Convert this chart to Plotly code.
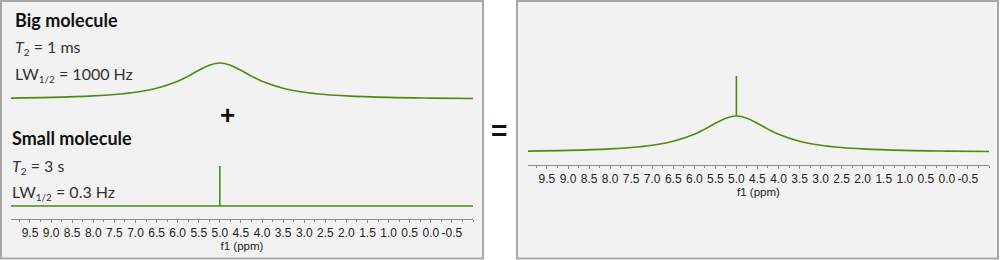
import plotly.graph_objects as go

# ---- data ----
big_ppm = [9.95, 9.0, 8.0, 7.5, 7.0, 6.5, 6.0, 5.75, 5.5, 5.25, 5.0,
           4.75, 4.5, 4.25, 4.0, 3.5, 3.0, 2.5, 2.0, 1.0, 0.0, -1.0]
big_int = [1.4, 2.1, 3.6, 5.0, 7.3, 11.2, 18.2, 23.4, 29.2, 34.3, 36.5,
           34.3, 29.2, 23.4, 18.2, 11.2, 7.3, 5.0, 3.6, 2.1, 1.4, 1.0]
small_ppm = [9.95, 5.0, 5.0, 5.0, -1.0]
small_int = [0.0, 0.0, 40.0, 0.0, 0.0]
tick_vals = [9.5, 9.0, 8.5, 8.0, 7.5, 7.0, 6.5, 6.0, 5.5, 5.0, 4.5,
             4.0, 3.5, 3.0, 2.5, 2.0, 1.5, 1.0, 0.5, 0.0, -0.5]
tick_text = ["9.5", "9.0", "8.5", "8.0", "7.5", "7.0", "6.5", "6.0", "5.5", "5.0", "4.5",
             "4.0", "3.5", "3.0", "2.5", "2.0", "1.5", "1.0", "0.5", "0.0", "-0.5"]
x_range = [9.95, -1.0]

W, H = 1000, 260
GREEN = "#4d8c10"
LINEW = 1.6


def px(x):
    return x / W


def py(y):
    return 1 - y / H


fig = go.Figure()

# big molecule (top left)
fig.add_trace(go.Scatter(x=big_ppm, y=big_int, mode="lines", line=dict(color=GREEN, width=LINEW, shape="spline"),
                         xaxis="x", yaxis="y", hoverinfo="skip", showlegend=False))
# small molecule (bottom left)
fig.add_trace(go.Scatter(x=small_ppm, y=small_int, mode="lines", line=dict(color=GREEN, width=LINEW),
                         xaxis="x2", yaxis="y2", hoverinfo="skip", showlegend=False))
# sum (right)
fig.add_trace(go.Scatter(x=big_ppm, y=big_int, mode="lines", line=dict(color=GREEN, width=LINEW, shape="spline"),
                         xaxis="x3", yaxis="y3", hoverinfo="skip", showlegend=False))
i5 = big_ppm.index(5.0)
peak_small = max(small_int)
fig.add_trace(go.Scatter(x=[5.0, 5.0], y=[big_int[i5], big_int[i5] + peak_small], mode="lines",
                         line=dict(color=GREEN, width=LINEW),
                         xaxis="x3", yaxis="y3", hoverinfo="skip", showlegend=False))

hidden_x = dict(range=x_range, showline=False, showticklabels=False, ticks="", showgrid=False, zeroline=False,
                fixedrange=True)
shown_x = dict(range=x_range, showline=True, linecolor="#8c8c8c", linewidth=1,
               tickmode="array", tickvals=tick_vals, ticktext=tick_text,
               ticks="outside", ticklen=3, tickcolor="#8c8c8c", tickwidth=1,
               minor=dict(dtick=0.25, tick0=0, ticks="outside", ticklen=2, tickcolor="#8c8c8c"),
               tickfont=dict(family="Liberation Sans, Arial", size=12, color="#222222"),
               title=dict(text="f1 (ppm)", font=dict(family="Liberation Sans, Arial", size=11.5, color="#222222"),
                          standoff=1),
               showgrid=False, zeroline=False, fixedrange=True)
hidden_y = dict(showline=False, showticklabels=False, ticks="", showgrid=False, zeroline=False, fixedrange=True)

fig.update_layout(
    width=W, height=H, margin=dict(l=0, r=0, t=0, b=0),
    paper_bgcolor="white", plot_bgcolor="rgba(0,0,0,0)",
    xaxis=dict(domain=[px(11), px(473)], anchor="y", **hidden_x),
    yaxis=dict(domain=[py(105), py(40)], range=[-5.5, 59.5], anchor="x", **hidden_y),
    xaxis2=dict(domain=[px(11), px(473)], anchor="y2", **shown_x),
    yaxis2=dict(domain=[py(219), py(150)], range=[-13, 56], anchor="x2", **hidden_y),
    xaxis3=dict(domain=[px(528), px(989)], anchor="y3", **shown_x),
    yaxis3=dict(domain=[py(165), py(60)], range=[-12.5, 92.5], anchor="x3", **hidden_y),
)

# panel boxes
for x0, x1 in [(1, 483), (517, 998)]:
    fig.add_shape(type="rect", xref="paper", yref="paper", x0=px(x0), x1=px(x1), y0=py(258.5), y1=py(1),
                  line=dict(color="#a8a8a8", width=2), fillcolor="#f2f2f2", layer="below")

TXT = "Lato, Noto Sans, sans-serif"
SUB = "<sub><span style='font-size:10px'>%s</span></sub>"


def label(x, y, text, size, color, bold=False):
    fig.add_annotation(xref="paper", yref="paper", x=px(x), y=py(y), xanchor="left", yanchor="middle",
                       text=("<b>%s</b>" % text) if bold else text, showarrow=False,
                       font=dict(family=TXT, size=size, color=color))


label(13, 20, "Big molecule", 18, "#111111", bold=True)
label(13, 47, "<i>T</i>" + SUB % "2" + " = 1 ms", 16, "#333333")
label(13, 74, "LW" + SUB % "1/2" + " = 1000 Hz", 16, "#333333")
label(10, 138, "Small molecule", 18, "#111111", bold=True)
label(10, 166, "<i>T</i>" + SUB % "2" + " = 3 s", 16, "#333333")
label(10, 192, "LW" + SUB % "1/2" + " = 0.3 Hz", 16, "#333333")

fig.add_annotation(xref="paper", yref="paper", x=px(227), y=py(115), xanchor="center", yanchor="middle",
                   text="<b>+</b>", showarrow=False, font=dict(family="Liberation Sans, Arial", size=26, color="#111111"))
fig.add_annotation(xref="paper", yref="paper", x=px(499), y=py(130), xanchor="center", yanchor="middle",
                   text="<b>=</b>", showarrow=False, font=dict(family="Liberation Sans, Arial", size=28, color="#111111"))

fig.write_html("out.html")
